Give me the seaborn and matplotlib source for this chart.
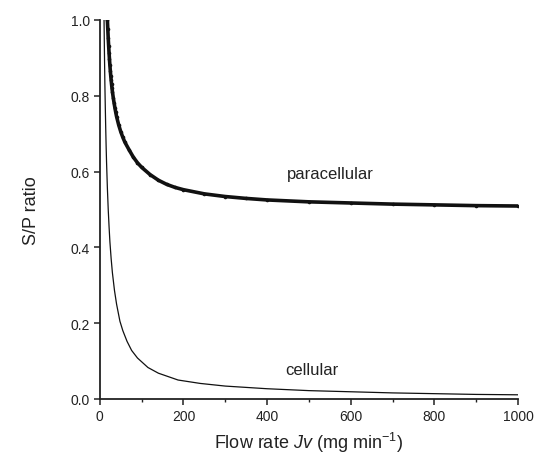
import numpy as np
import pandas as pd
import seaborn as sns
import matplotlib.pyplot as plt
from matplotlib.ticker import MultipleLocator

# values
para_x = [18, 19, 20, 21, 22, 23, 24, 25, 26, 27, 28, 29, 30, 32, 34, 36, 38, 40,
          45, 50, 55, 60, 70, 80, 90, 100, 120, 140, 160, 180, 200, 250, 300, 350,
          400, 500, 600, 700, 800, 900, 1000]
para_y = [1.000, 0.975, 0.952, 0.932, 0.913, 0.896, 0.880, 0.866, 0.853, 0.841, 0.830,
          0.820, 0.811, 0.795, 0.781, 0.768, 0.756, 0.745, 0.723, 0.705, 0.690, 0.677,
          0.657, 0.638, 0.623, 0.611, 0.592, 0.577, 0.566, 0.558, 0.552, 0.541, 0.534,
          0.529, 0.525, 0.520, 0.517, 0.514, 0.512, 0.510, 0.509]

cell_x = [10, 11, 12, 13, 14, 15, 16, 18, 20, 22, 24, 27, 30, 35, 40, 48, 55, 65, 76,
          90, 115, 140, 187, 240, 300, 400, 500, 600, 700, 800, 900, 1000]
cell_y = [1.000, 0.910, 0.830, 0.770, 0.715, 0.667, 0.625, 0.556, 0.500, 0.455, 0.415,
          0.370, 0.333, 0.286, 0.250, 0.205, 0.180, 0.152, 0.128, 0.108, 0.083, 0.068,
          0.050, 0.041, 0.034, 0.027, 0.022, 0.019, 0.016, 0.014, 0.012, 0.011]

sns.set_style("ticks")
plt.rcParams['font.family'] = ['Liberation Sans', 'DejaVu Sans']
plt.rcParams['mathtext.fontset'] = 'custom'
plt.rcParams['mathtext.rm'] = 'Liberation Sans'
plt.rcParams['mathtext.it'] = 'Liberation Sans:italic'

fig = plt.figure(figsize=(5.34, 4.64), dpi=100)
ax = fig.add_axes([0.187, 0.138, 0.783, 0.817])

para = pd.DataFrame({'x': para_x, 'y': para_y})
cell = pd.DataFrame({'x': cell_x, 'y': cell_y})

sns.lineplot(data=para, x='x', y='y', ax=ax, color='#111111', linewidth=2.6,
             marker='o', markersize=2.6, markeredgewidth=0)
sns.lineplot(data=cell, x='x', y='y', ax=ax, color='#111111', linewidth=0.9)

ax.set_xlim(0, 1000)
ax.set_ylim(0, 1.0)
ax.xaxis.set_major_locator(MultipleLocator(200))
ax.xaxis.set_minor_locator(MultipleLocator(100))
ax.yaxis.set_major_locator(MultipleLocator(0.2))
ax.yaxis.set_major_formatter(plt.FormatStrFormatter('%.1f'))

ax.tick_params(which='major', direction='out', length=4, width=1.1, labelsize=10,
               color='#222222', labelcolor='#222222', pad=3)
ax.tick_params(which='minor', direction='out', length=2.5, width=1.0, color='#222222')
for s in ['left', 'bottom']:
    ax.spines[s].set_linewidth(1.3)
    ax.spines[s].set_color('#222222')
sns.despine(ax=ax)

ax.set_xlabel(r'Flow rate $\mathit{Jv}$ (mg min$^{\mathregular{-1}}$)', fontsize=13,
              color='#222222', labelpad=5)
ax.set_ylabel('S/P ratio', fontsize=13, color='#222222', labelpad=22)

ax.text(551, 0.594, 'paracellular', fontsize=12, ha='center', va='center', color='#222222')
ax.text(506, 0.079, 'cellular', fontsize=12, ha='center', va='center', color='#222222')

plt.savefig('out.png', dpi=100)
